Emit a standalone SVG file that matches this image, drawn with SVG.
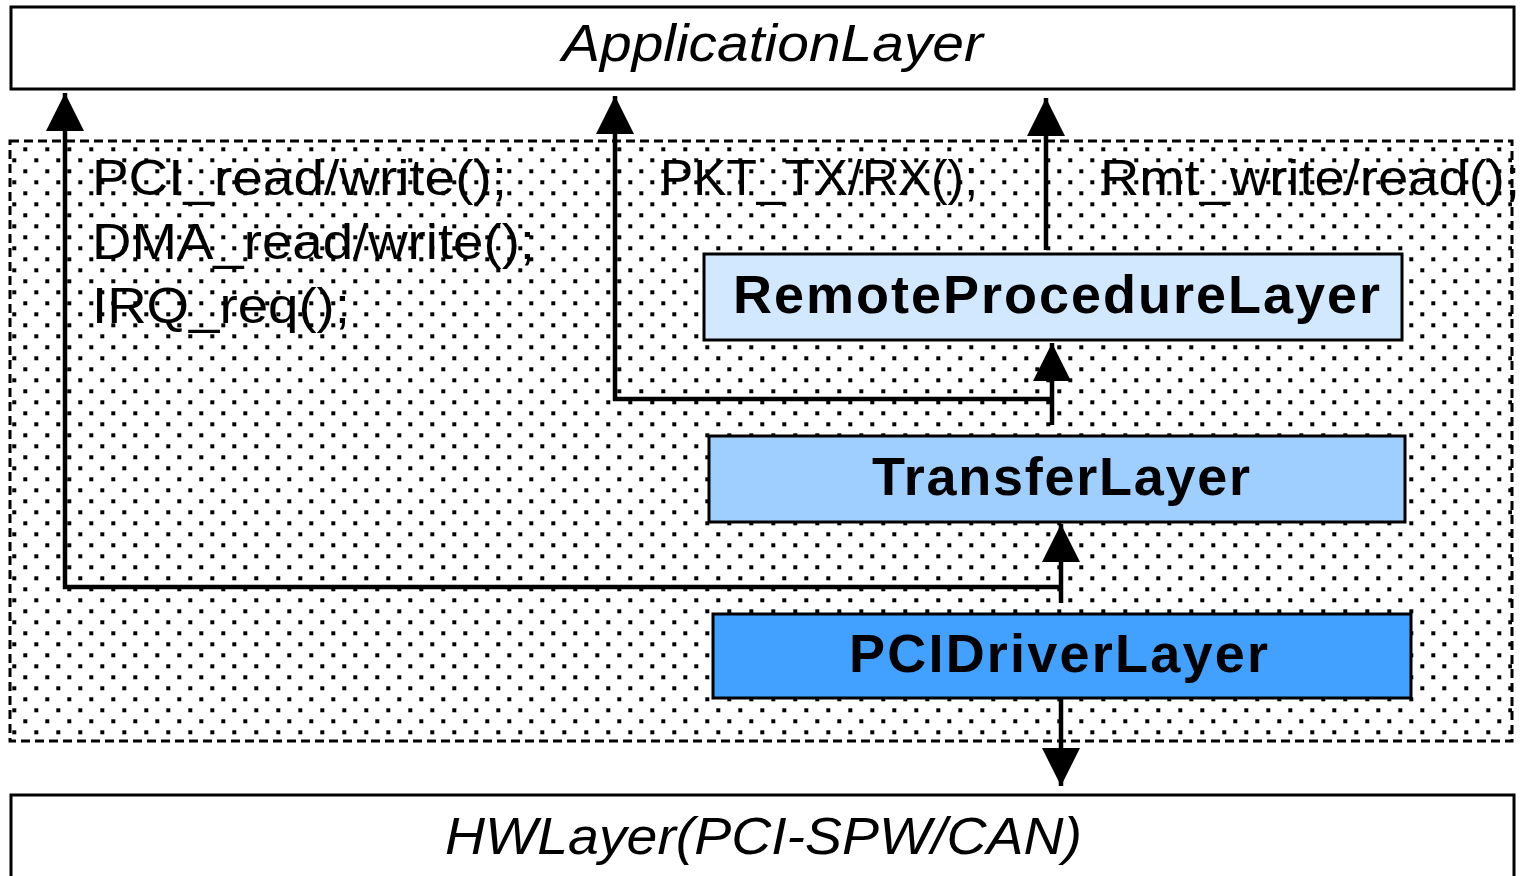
<svg xmlns="http://www.w3.org/2000/svg" width="1526" height="876" viewBox="0 0 1526 876">
<style>
.box{stroke:#000;stroke-width:3}
.lbl{font-family:"Liberation Sans",Arial,sans-serif;fill:#000}
.it{font-style:italic;font-size:52px}
.bd{font-weight:bold;font-size:54px}
.fn{font-size:50px}
.con{fill:none;stroke:#000;stroke-width:4.5;marker-end:url(#ah)}
</style>
<defs>
<pattern id="dots" patternUnits="userSpaceOnUse" x="606.3" y="246.3" width="22" height="22">
<rect x="0" y="0" width="4" height="4" fill="#000"/>
<rect x="11" y="11" width="4" height="4" fill="#000"/>
</pattern>
<marker id="ah" markerUnits="userSpaceOnUse" markerWidth="40" markerHeight="40" viewBox="0 0 40 40" refX="38" refY="19" orient="auto">
<path d="M0,0 L38,19 L0,38 z" fill="#000"/>
</marker>
</defs>
<rect width="1526" height="876" fill="#fff"/>
<g id="container">
<rect x="10" y="141" width="1502" height="600" fill="#fff"/>
<rect x="10" y="141" width="1502" height="600" fill="url(#dots)" stroke="#000" stroke-width="3" stroke-dasharray="9,5"/>
</g>
<g id="app">
<rect class="box" x="11" y="7" width="1503" height="82" fill="#fff"/>
<text class="lbl it" x="562" y="61" textLength="421" lengthAdjust="spacingAndGlyphs">ApplicationLayer</text>
</g>
<g id="hw">
<rect class="box" x="11" y="795" width="1503" height="100" fill="#fff"/>
<text class="lbl it" x="445" y="854" textLength="637" lengthAdjust="spacingAndGlyphs">HWLayer(PCI-SPW/CAN)</text>
</g>
<g id="rpl">
<rect class="box" x="704" y="254" width="698" height="86" fill="#D2E8FF"/>
<text class="lbl bd" x="733" y="313" textLength="647">RemoteProcedureLayer</text>
</g>
<g id="transfer">
<rect class="box" x="709" y="436" width="696" height="86" fill="#9FCFFF"/>
<text class="lbl bd" x="872" y="495" textLength="378">TransferLayer</text>
</g>
<g id="pcidrv">
<rect class="box" x="713" y="614" width="698" height="84" fill="#42A1FF"/>
<text class="lbl bd" x="849" y="672" textLength="419">PCIDriverLayer</text>
</g>
<g id="labels">
<text class="lbl fn" x="92" y="195" textLength="415" lengthAdjust="spacingAndGlyphs">PCI_read/write();</text>
<text class="lbl fn" x="92" y="259" textLength="443" lengthAdjust="spacingAndGlyphs">DMA_read/write();</text>
<text class="lbl fn" x="92" y="323" textLength="258" lengthAdjust="spacingAndGlyphs">IRQ_req();</text>
<text class="lbl fn" x="660" y="195" textLength="318" lengthAdjust="spacingAndGlyphs">PKT_TX/RX();</text>
<text class="lbl fn" x="1100" y="195" textLength="420" lengthAdjust="spacingAndGlyphs">Rmt_write/read();</text>
</g>
<g id="connectors">
<path class="con" d="M1061,603 V524"/>
<path class="con" d="M1061,587 H65 V93"/>
<path class="con" d="M1052,425 V343"/>
<path class="con" d="M1052,399 H615 V96"/>
<path class="con" d="M1046,250 V98"/>
<path class="con" d="M1061,698 V786"/>
</g>
</svg>
